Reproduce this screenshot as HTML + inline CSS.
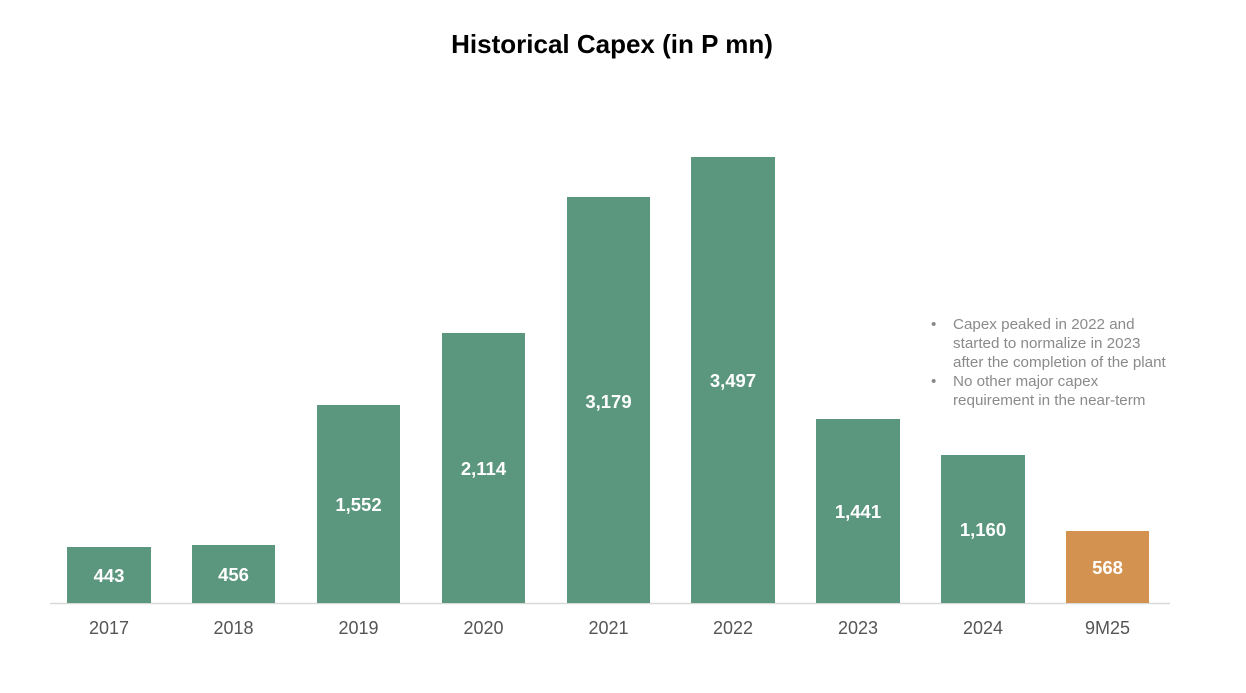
<!DOCTYPE html>
<html><head><meta charset="utf-8"><style>
html,body{margin:0;padding:0;background:#fff;}
</style></head><body>
<svg width="1246" height="688" xmlns="http://www.w3.org/2000/svg" font-family="Liberation Sans, Arial, sans-serif">
<rect width="1246" height="688" fill="#fff"/>
<text x="612" y="53" text-anchor="middle" font-size="26" font-weight="bold" fill="#000">Historical Capex (in P mn)</text>
<line x1="50" y1="603.5" x2="1170" y2="603.5" stroke="#d9d9d9" stroke-width="1.5"/>
<g fill="#5b967f">
<rect x="67" y="547" width="84" height="56"/>
<rect x="192" y="545" width="83" height="58"/>
<rect x="317" y="405" width="83" height="198"/>
<rect x="442" y="333" width="83" height="270"/>
<rect x="567" y="197" width="83" height="406"/>
<rect x="691" y="157" width="84" height="446"/>
<rect x="816" y="419" width="84" height="184"/>
<rect x="941" y="455" width="84" height="148"/>
</g>
<rect x="1066" y="531" width="83" height="72" fill="#d3924f"/>
<g fill="#fff" font-size="18.5" font-weight="bold" text-anchor="middle">
<text x="109" y="582">443</text>
<text x="233.5" y="581">456</text>
<text x="358.5" y="511">1,552</text>
<text x="483.5" y="475">2,114</text>
<text x="608.5" y="408">3,179</text>
<text x="733" y="387">3,497</text>
<text x="858" y="518">1,441</text>
<text x="983" y="536">1,160</text>
<text x="1107.5" y="574">568</text>
</g>
<g fill="#555" font-size="18" text-anchor="middle">
<text x="109" y="634">2017</text>
<text x="233.5" y="634">2018</text>
<text x="358.5" y="634">2019</text>
<text x="483.5" y="634">2020</text>
<text x="608.5" y="634">2021</text>
<text x="733" y="634">2022</text>
<text x="858" y="634">2023</text>
<text x="983" y="634">2024</text>
<text x="1107.5" y="634">9M25</text>
</g>
<g fill="#8a8a8a" font-size="15.2">
<text x="931" y="329">•</text>
<text x="953" y="329">Capex peaked in 2022 and</text>
<text x="953" y="348">started to normalize in 2023</text>
<text x="953" y="367">after the completion of the plant</text>
<text x="931" y="386">•</text>
<text x="953" y="386">No other major capex</text>
<text x="953" y="405">requirement in the near-term</text>
</g>
</svg>
</body></html>
